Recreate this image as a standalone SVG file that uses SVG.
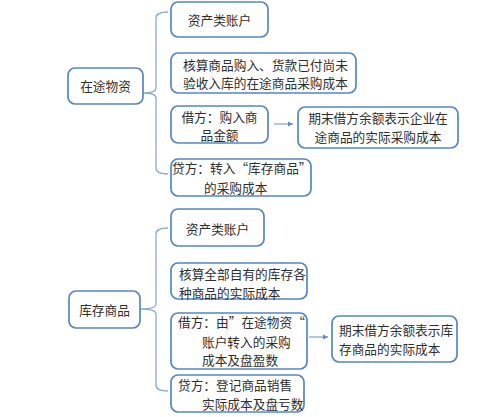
<svg xmlns="http://www.w3.org/2000/svg" width="500" height="417" viewBox="0 0 500 417">
<style>
.box{fill:#ffffff;stroke:#5585c3;stroke-width:1.7}
.t{font-family:"Noto Sans CJK SC","Noto Sans",sans-serif;font-size:12.7px;fill:#2e2e2e}
.m{text-anchor:middle}
.br{fill:none;stroke:#86abd8;stroke-width:1.3}
.ar{fill:none;stroke:#5b8ed0;stroke-width:1}
</style>
<defs>
<marker id="ah" markerWidth="6" markerHeight="6" refX="5" refY="3" orient="auto" markerUnits="userSpaceOnUse">
<path d="M0,0.5 L5,3 L0,5.5 Z" fill="#5b8ed0"/>
</marker>
</defs>
<rect width="500" height="417" fill="#ffffff"/>
<g id="connectors">
<path class="br" d="M168,12 Q156,12 156,18 L156,88 Q156,93 143,93 Q156,93 156,98 L156,168 Q156,174 168,174"/>
<path class="br" d="M168,228 Q156,228 156,234 L156,304 Q156,309 140,309 Q156,309 156,314 L156,385 Q156,391 168,391"/>
<line class="ar" x1="274" y1="124" x2="293" y2="124" marker-end="url(#ah)"/>
<line class="ar" x1="309" y1="337" x2="328" y2="337" marker-end="url(#ah)"/>
</g>
<g id="n-zaitu">
<rect class="box" x="68" y="68" width="75" height="36" rx="7"/>
<text class="t m" x="105.5" y="90.5">在途物资</text>
</g>
<g id="n-t1">
<rect class="box" x="171" y="2" width="97" height="35" rx="7"/>
<text class="t m" x="219.5" y="24.5">资产类账户</text>
</g>
<g id="n-t2">
<rect class="box" x="171" y="53" width="185" height="40" rx="7"/>
<text class="t" x="183" y="69.5">核算商品购入、货款已付尚未</text>
<text class="t" x="183" y="87.5">验收入库的在途商品采购成本</text>
</g>
<g id="n-t3">
<rect class="box" x="171" y="106" width="97" height="37" rx="7"/>
<text class="t m" x="219.5" y="121.5">借方：购入商</text>
<text class="t m" x="219.5" y="139.5">品金额</text>
</g>
<g id="n-t4">
<rect class="box" x="298" y="107" width="160" height="41" rx="7"/>
<text class="t m" x="378" y="122.5">期末借方余额表示企业在</text>
<text class="t m" x="378" y="141.5">途商品的实际采购成本</text>
</g>
<g id="n-t5">
<rect class="box" x="171" y="159" width="140" height="37" rx="7"/>
<text class="t" x="172" y="172.5">贷方：转入“库存商品”</text>
<text class="t" x="204" y="192.5">的采购成本</text>
</g>
<g id="n-kucun">
<rect class="box" x="69" y="291" width="71" height="37" rx="7"/>
<text class="t m" x="104.5" y="314.5">库存商品</text>
</g>
<g id="n-b1">
<rect class="box" x="171" y="209" width="93" height="37" rx="7"/>
<text class="t m" x="217.5" y="233.5">资产类账户</text>
</g>
<g id="n-b2">
<rect class="box" x="171" y="263" width="136" height="36" rx="7"/>
<text class="t" x="179" y="278.5">核算全部自有的库存各</text>
<text class="t" x="179" y="297.5">种商品的实际成本</text>
</g>
<g id="n-b3">
<rect class="box" x="171" y="313" width="136" height="56" rx="7"/>
<text class="t" x="178" y="326.5">借方：由”在途物资“</text>
<text class="t" x="202" y="346.5">账户转入的采购</text>
<text class="t" x="202" y="364.5">成本及盘盈数</text>
</g>
<g id="n-b4">
<rect class="box" x="332" y="316" width="125" height="46" rx="7"/>
<text class="t" x="339" y="334.5">期末借方余额表示库</text>
<text class="t" x="339" y="353.5">存商品的实际成本</text>
</g>
<g id="n-b5">
<rect class="box" x="171" y="375" width="133" height="37" rx="7"/>
<text class="t" x="178" y="389.5">贷方：登记商品销售</text>
<text class="t" x="202" y="408.5">实际成本及盘亏数</text>
</g>
</svg>
